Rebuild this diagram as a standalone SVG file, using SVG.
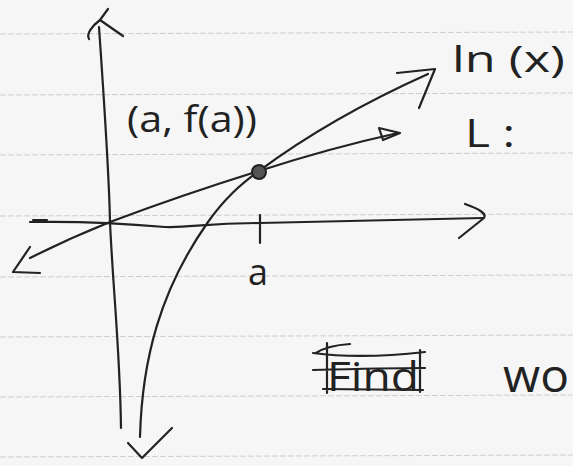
<svg xmlns="http://www.w3.org/2000/svg" width="573" height="466" viewBox="0 0 573 466">
<style>
.rule{stroke:#cfcfcf;stroke-width:1;stroke-dasharray:6 2;fill:none}
.ink{stroke:#222;stroke-width:2.2;fill:none;stroke-linecap:round;stroke-linejoin:round}
.txt{font-family:"Open Sans","DejaVu Sans",sans-serif;fill:#222}
</style>
<rect width="573" height="466" fill="#f6f6f6"/>
<g id="ruled-lines">
<line class="rule" x1="0" y1="34" x2="573" y2="32"/>
<line class="rule" x1="0" y1="95" x2="573" y2="93"/>
<line class="rule" x1="0" y1="155" x2="573" y2="153"/>
<line class="rule" x1="0" y1="216" x2="573" y2="214"/>
<line class="rule" x1="0" y1="277" x2="573" y2="275"/>
<line class="rule" x1="0" y1="337" x2="573" y2="335"/>
<line class="rule" x1="0" y1="397" x2="573" y2="395"/>
<line class="rule" x1="0" y1="457" x2="573" y2="455"/>
</g>
<g id="connectors">
<g id="y-axis">
<path class="ink" d="M99,27 C104,100 109,170 110,222 C113,290 120,350 121,428"/>
<path class="ink" d="M89,39 C86,34 92,26 100,20 L108,9 M100,20 L123,36"/>
</g>
<g id="x-axis">
<path class="ink" d="M30,222 C80,221 120,223 165,227 C190,228 205,223 260,223 C350,221 420,219 483,218"/>
<path class="ink" d="M33,220 L47,220" stroke-width="1.5"/>
<path class="ink" d="M465,204 Q488,212 484,218 L459,238"/>
<path class="ink" d="M260,215 L260,243"/>
</g>
<g id="ln-curve">
<path class="ink" d="M140,437 C142,360 160,290 208,222 C225,198 240,185 259,171 C310,133 370,100 428,74"/>
<path class="ink" d="M397,73 L435,69 L419,108"/>
<path class="ink" d="M128,443 L142,458 L172,428"/>
</g>
<g id="tangent-L">
<path class="ink" d="M30,258 Q70,238 110,222 Q185,194 259,171 Q330,148 398,133"/>
<path class="ink" d="M379,128 L400,133 L383,140 Z"/>
<path class="ink" d="M30,247 L13,272 L40,273"/>
</g>
</g>
<g id="point">
<circle cx="259" cy="172" r="7" fill="#555" stroke="#222" stroke-width="2"/>
</g>
<g id="labels">
<text class="txt" x="452" y="72" font-size="36" textLength="113" lengthAdjust="spacingAndGlyphs">ln (x)</text>
<text class="txt" x="465" y="147" font-size="38" textLength="50" lengthAdjust="spacingAndGlyphs">L :</text>
<text class="txt" x="127" y="132" font-size="36" textLength="130" lengthAdjust="spacingAndGlyphs">(a, f(a))</text>
<text class="txt" x="248" y="285" font-size="36">a</text>
</g>
<g id="find">
<text class="txt" x="327" y="391" font-size="40" textLength="92" lengthAdjust="spacingAndGlyphs">Find</text>
<path class="ink" d="M313,353 C350,358 390,356 425,352 M313,370 C350,369 390,368 425,368 M323,389 L423,390 M327,343 L327,393 M420,350 L420,392 M350,344 C335,345 322,349 316,353"/>
</g>
<g id="trailing-text">
<text class="txt" x="503" y="392" font-size="46" textLength="66" lengthAdjust="spacingAndGlyphs">wo</text>
</g>
</svg>
